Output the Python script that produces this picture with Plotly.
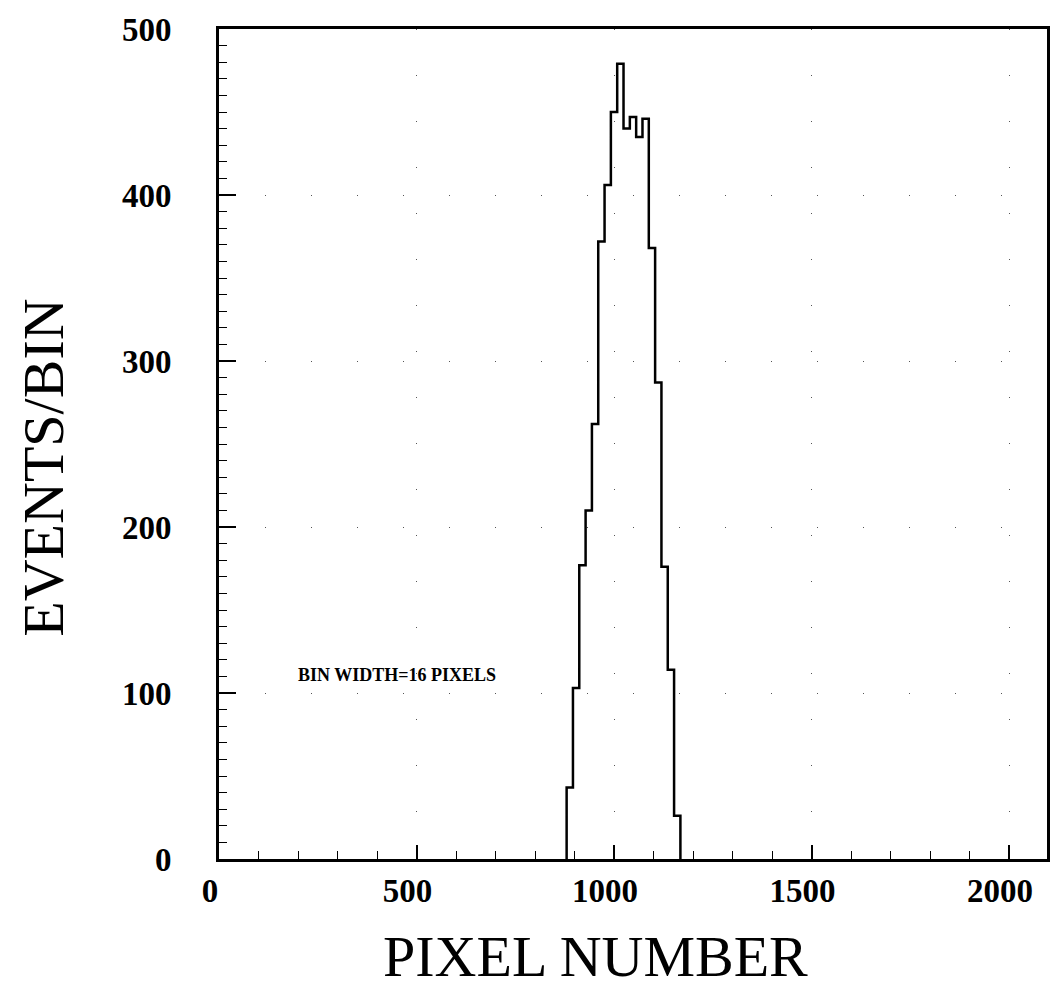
import plotly.graph_objects as go

# Histogram of event positions, 16-pixel bins
bin_width = 16
bin_left = [880, 896, 912, 928, 944, 960, 976, 992, 1008,
            1024, 1040, 1056, 1072, 1088, 1104, 1120, 1136, 1152]
counts = [43, 103, 177, 210, 262, 372, 406, 450, 479,
          440, 447, 435, 446, 368, 287, 176, 114, 26]

x_ticks = [0, 500, 1000, 1500, 2000]
y_ticks = [0, 100, 200, 300, 400, 500]

# step outline: rise at the first edge, drop at the last one
xs = [bin_left[0]] + bin_left + [bin_left[-1] + bin_width]
ys = [0] + counts + [0]

serif = "Liberation Serif, Times New Roman, serif"

fig = go.Figure()
fig.add_trace(go.Scatter(
    x=xs, y=ys, mode="lines", line_shape="hv",
    line=dict(color="black", width=2.5), hoverinfo="skip",
    showlegend=False,
))

axis_common = dict(
    showline=True, linecolor="black", linewidth=3, mirror=True,
    ticks="inside", tickcolor="black", tickwidth=1.5,
    showgrid=True, gridcolor="#555555", gridwidth=1,
    griddash="1px,45px", zeroline=False,
    tickfont=dict(family=serif, size=33, color="black", weight="bold"),
)

fig.update_xaxes(
    range=[0, 2096], tickvals=x_ticks, ticktext=[str(v) for v in x_ticks],
    ticklen=14, ticklabelstandoff=0, ticklabelshift=-9,
    minor=dict(dtick=100, tick0=0, ticks="inside", ticklen=8,
               tickcolor="black", tickwidth=1.2, showgrid=False),
    **axis_common,
)
fig.update_yaxes(
    range=[0, 500], tickvals=y_ticks, ticktext=[str(v) for v in y_ticks],
    ticklen=17, ticklabelstandoff=38,
    minor=dict(dtick=10, tick0=0, ticks="inside", ticklen=8,
               tickcolor="black", tickwidth=1.2, showgrid=False),
    **axis_common,
)

fig.add_annotation(
    x=450, y=111, xref="x", yref="y", text="BIN WIDTH=16 PIXELS",
    showarrow=False, xanchor="center", yanchor="middle",
    font=dict(family=serif, size=18, color="black", weight="bold"),
)
fig.add_annotation(
    x=-0.213, y=0.471, xref="paper", yref="paper", text="EVENTS/BIN",
    textangle=-90, showarrow=False, xanchor="center", yanchor="middle",
    font=dict(family=serif, size=58, color="black"),
)
fig.add_annotation(
    x=0.455, y=-0.117, xref="paper", yref="paper", text="PIXEL NUMBER",
    showarrow=False, xanchor="center", yanchor="middle",
    font=dict(family=serif, size=58, color="black"),
)

fig.update_layout(
    width=1051, height=991,
    margin=dict(l=219, r=1, t=29, b=132),
    plot_bgcolor="white", paper_bgcolor="white",
)

fig.write_html("out.html")
